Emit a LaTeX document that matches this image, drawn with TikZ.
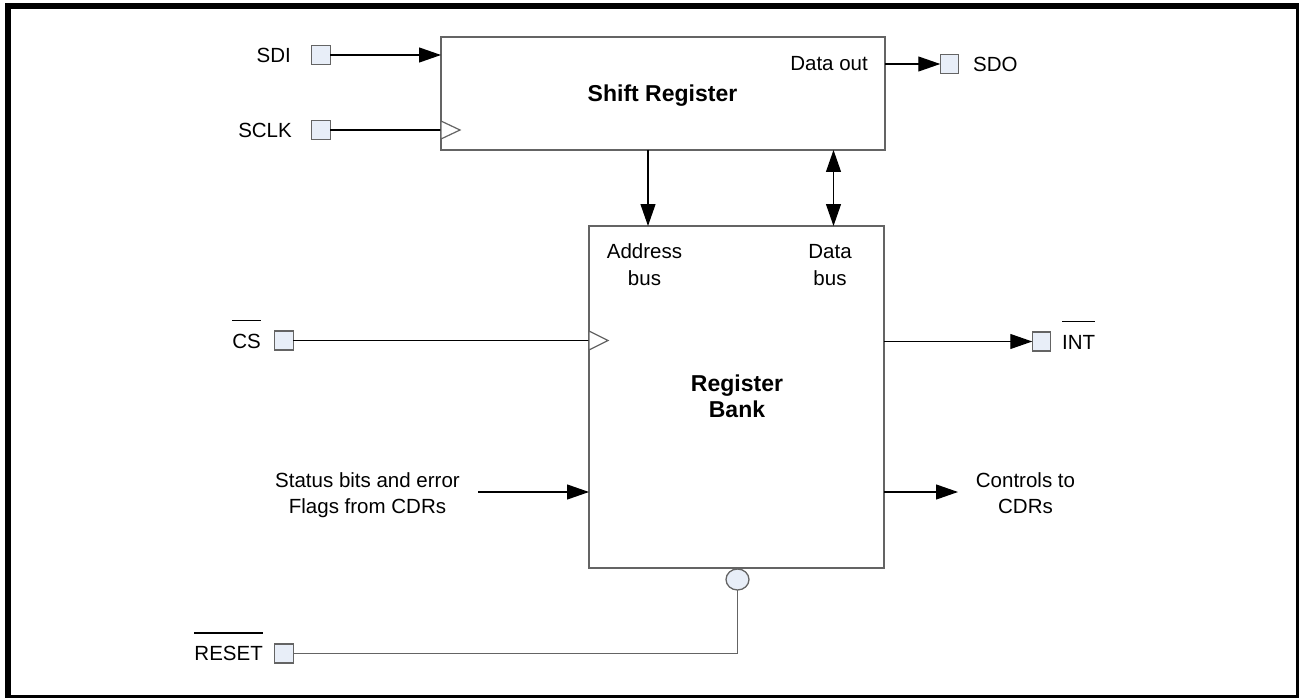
\documentclass[tikz,border=0pt]{standalone}
\usepackage{fontspec}
\setmainfont{Liberation Sans}
\usetikzlibrary{arrows.meta,shapes.geometric}
\definecolor{pinfill}{RGB}{232,238,248}
\definecolor{boxline}{RGB}{100,100,100}
\newcommand\myovl[1]{\setbox0\hbox{#1}\rlap{\rule[1.3em]{\wd0}{1.5pt}}\box0}
\begin{document}
\begin{tikzpicture}[x=1pt,y=-1pt,
  lbl/.style={inner sep=0pt, font=\fontsize{20.5}{25}\selectfont},
  blbl/.style={inner sep=0pt, font=\fontsize{23}{27}\selectfont\bfseries},
  blk/.style={draw=boxline, line width=1.8pt, outer sep=0pt, inner sep=0pt},
  pin/.style={draw=boxline, fill=pinfill, line width=1.3pt, minimum width=18.5pt, minimum height=19pt, inner sep=0pt, outer sep=0pt},
  bubble/.style={ellipse, draw=boxline, fill=pinfill, line width=1.3pt, minimum width=23pt, minimum height=21pt, inner sep=0pt, outer sep=0pt},
  wire/.style={line width=1.2pt},
  gwire/.style={line width=1.3pt, draw=boxline},
  tip/.tip={Triangle[length=22pt,width=15pt]},
  arr/.style={wire, -tip},
  clk/.style={draw=boxline, fill=white, line width=1.2pt}]
\useasboundingbox (0,0) rectangle (1299,698);
\draw[line width=6pt] (8,6) rectangle (1299,698);

% blocks
\node[blk, minimum width=444pt, minimum height=113pt] (sr) at (663,93.5) {};
\node[blk, minimum width=295pt, minimum height=342pt] (rb) at (736.5,397) {};

% pins
\node[pin] (sdi) at (321,55) {};
\node[pin] (sclk) at (321,130) {};
\node[pin] (sdo) at (949.5,64) {};
\node[pin] (cs) at (284,340.5) {};
\node[pin] (int) at (1041.5,341.5) {};
\node[pin] (reset) at (284,653.5) {};
\node[bubble] (bub) at (737.5,579.5) {};

% pin labels
\node[lbl, anchor=base east] (sdil) at (291,62.3) {SDI};
\node[lbl, anchor=base east] (sclkl) at (292,137.3) {SCLK};
\node[lbl, anchor=base west] (sdol) at (973,71.3) {SDO};
\node[lbl, anchor=base east] (csl) at (261,348) {\myovl{CS}};
\node[lbl, anchor=base west] (intl) at (1062,349) {\myovl{INT}};
\node[lbl, anchor=base east] (resetl) at (263,660.5) {\myovl{RESET}};

% block texts
\node[blbl, anchor=base] (srt) at (662.5,102) {Shift Register};
\node[blbl, anchor=base] (rbt1) at (737,391) {Register};
\node[blbl, anchor=base] (rbt2) at (737,417.5) {Bank};
\node[lbl, anchor=base east] (dout) at (868,70.3) {Data out};
\node[lbl, anchor=base] (ad1) at (644.5,258.3) {Address};
\node[lbl, anchor=base] (ad2) at (644.5,285) {bus};
\node[lbl, anchor=base] (db1) at (830,258.3) {Data};
\node[lbl, anchor=base] (db2) at (830,285) {bus};
\node[lbl, anchor=base] (st1) at (367.5,487.5) {Status bits and error};
\node[lbl, anchor=base] (st2) at (367.5,513.5) {Flags from CDRs};
\node[lbl, anchor=base] (ct1) at (1025.5,487) {Controls to};
\node[lbl, anchor=base] (ct2) at (1025.5,513.3) {CDRs};

% helper coordinates
\coordinate (ab) at (648,0);
\coordinate (dbx) at (833.5,0);
\coordinate (stin) at (478,492);
\coordinate (ctout) at (958,492);
\coordinate (sclkin) at (sclk.east -| sr.west);
\coordinate (csin) at (cs.east -| rb.west);

% connectors
\draw[arr] (sdi.east) -- (sdi.east -| sr.west);
\draw[wire] (sclk.east) -- (sclkin);
\draw[clk] (sclkin) ++(0,-9) -- ++(19,9) -- ++(-19,9) -- cycle;
\draw[arr] (sr.east |- sdo.west) -- (sdo.west);
\draw[arr] (ab |- sr.south) -- (ab |- rb.north);
\draw[wire, tip-tip] (dbx |- sr.south) -- (dbx |- rb.north);
\draw[wire] (cs.east) -- (csin);
\draw[clk] (csin) ++(0,-9.5) -- ++(19,9.5) -- ++(-19,9.5) -- cycle;
\draw[arr] (int.west -| rb.east) -- (int.west);
\draw[arr] (stin) -- (stin -| rb.west);
\draw[arr] (ctout -| rb.east) -- (ctout);
\draw[gwire] (bub.south) |- (reset.east);
\end{tikzpicture}
\end{document}
